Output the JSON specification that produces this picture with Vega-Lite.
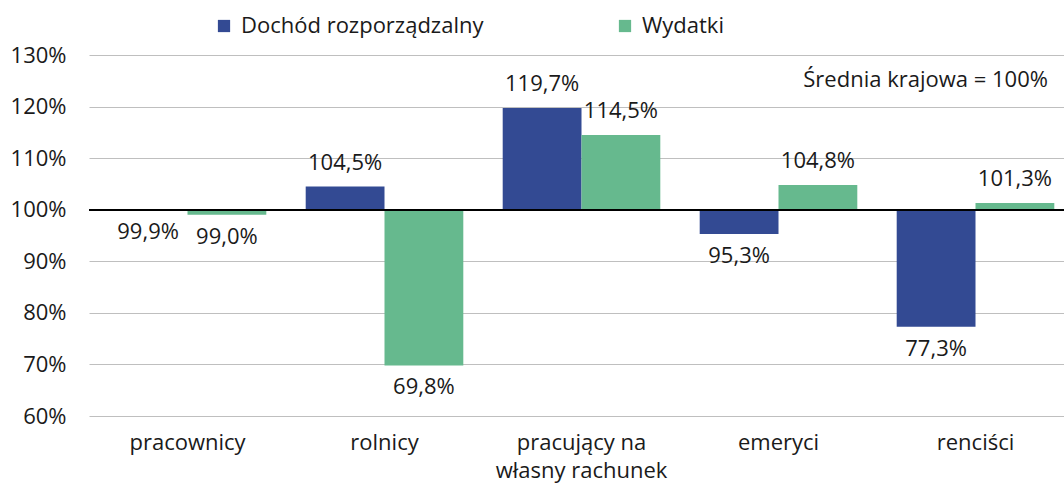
{
  "$schema": "https://vega.github.io/schema/vega-lite/v6.json",
  "width": 975,
  "height": 361,
  "autosize": "none",
  "padding": {"left": 89, "top": 55, "right": 0, "bottom": 70},
  "background": "white",
  "config": {
    "view": {"stroke": null},
    "font": "Open Sans",
    "text": {"font": "Open Sans", "fontSize": 22, "color": "#1a1a1a"}
  },
  "data": {
    "values": [
      {"grupa": "pracownicy", "seria": "Dochód rozporządzalny", "value": 99.9},
      {"grupa": "pracownicy", "seria": "Wydatki", "value": 99.0},
      {"grupa": "rolnicy", "seria": "Dochód rozporządzalny", "value": 104.5},
      {"grupa": "rolnicy", "seria": "Wydatki", "value": 69.8},
      {"grupa": "pracujący na\nwłasny rachunek", "seria": "Dochód rozporządzalny", "value": 119.7},
      {"grupa": "pracujący na\nwłasny rachunek", "seria": "Wydatki", "value": 114.5},
      {"grupa": "emeryci", "seria": "Dochód rozporządzalny", "value": 95.3},
      {"grupa": "emeryci", "seria": "Wydatki", "value": 104.8},
      {"grupa": "renciści", "seria": "Dochód rozporządzalny", "value": 77.3},
      {"grupa": "renciści", "seria": "Wydatki", "value": 101.3}
    ]
  },
  "transform": [
    {"calculate": "replace(format(datum.value, '.1f'), '.', ',') + '%'", "as": "label"}
  ],
  "encoding": {
    "x": {
      "field": "grupa",
      "type": "nominal",
      "sort": null,
      "scale": {"range": [0, 985], "paddingInner": 0, "paddingOuter": 0},
      "axis": {
        "title": null,
        "domain": false,
        "ticks": false,
        "labelAngle": 0,
        "labelFontSize": 22,
        "labelFont": "Open Sans",
        "labelColor": "#1a1a1a",
        "labelPadding": 16,
        "labelLineHeight": 28,
        "labelBaseline": "top",
        "labelExpr": "split(datum.label, '\\n')"
      }
    },
    "xOffset": {
      "field": "seria",
      "type": "nominal",
      "sort": ["Dochód rozporządzalny", "Wydatki"],
      "scale": {"paddingInner": 0, "paddingOuter": 0.25}
    },
    "y": {
      "field": "value",
      "type": "quantitative",
      "scale": {"domain": [60, 130], "nice": false, "zero": false},
      "axis": {
        "title": null,
        "domain": false,
        "ticks": false,
        "values": [60, 70, 80, 90, 100, 110, 120, 130],
        "labelExpr": "datum.value + '%'",
        "labelFontSize": 22,
        "labelFont": "Open Sans",
        "labelColor": "#1a1a1a",
        "labelPadding": 23,
        "gridColor": "#bfbfbf",
        "gridWidth": 1.2
      }
    }
  },
  "layer": [
    {
      "mark": {"type": "bar"},
      "encoding": {
        "y2": {"datum": 100},
        "color": {
          "field": "seria",
          "type": "nominal",
          "scale": {"domain": ["Dochód rozporządzalny", "Wydatki"], "range": ["#334a93", "#66b98e"]},
          "legend": {
            "title": null,
            "orient": "none",
            "legendX": 124,
            "legendY": -40,
            "direction": "horizontal",
            "symbolType": "square",
            "symbolSize": 150,
            "symbolStrokeWidth": 0,
            "labelFontSize": 22,
            "labelFont": "Open Sans",
            "labelColor": "#1a1a1a",
            "labelOffset": 6,
            "labelLimit": 600,
            "columnPadding": 130
          }
        }
      }
    },
    {
      "mark": {"type": "rule", "color": "#000000", "strokeWidth": 1.5},
      "encoding": {"y": {"datum": 100}, "x": null, "xOffset": null}
    },
    {
      "transform": [{"filter": "datum.value >= 100"}],
      "mark": {"type": "text", "baseline": "alphabetic", "dy": -17},
      "encoding": {"text": {"field": "label"}}
    },
    {
      "transform": [{"filter": "datum.value < 100"}],
      "mark": {"type": "text", "baseline": "top", "dy": 12},
      "encoding": {"text": {"field": "label"}}
    },
    {
      "data": {"values": [{"opis": "Średnia krajowa = 100%", "grupa": "renciści", "seria": "Wydatki", "value": 123.8}]},
      "mark": {"type": "text", "align": "right", "baseline": "alphabetic", "dx": 33},
      "encoding": {
        "text": {"field": "opis"}
      }
    }
  ]
}
